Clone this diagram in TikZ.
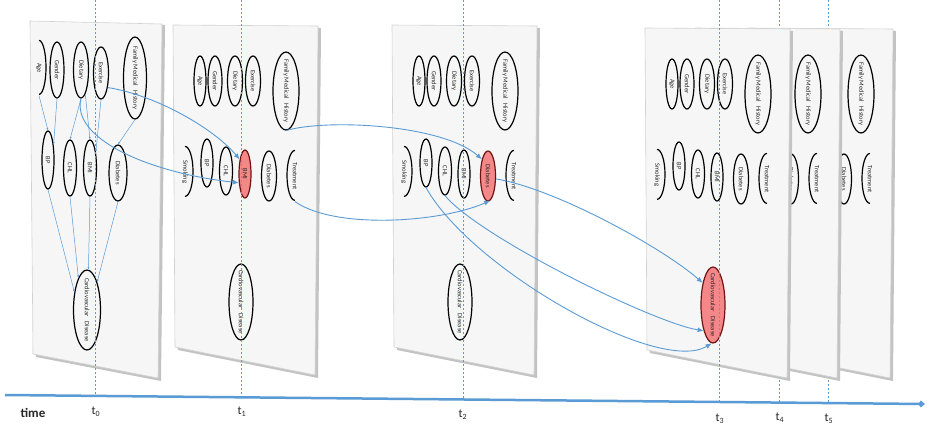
\documentclass[tikz,border=0pt]{standalone}
\usepackage{fontspec}
\setmainfont{Carlito}
\usetikzlibrary{shapes.geometric,arrows.meta,calc}

\definecolor{lineblue}{RGB}{91,155,213}
\definecolor{panelfill}{RGB}{246,246,246}
\definecolor{paneledge}{RGB}{210,210,210}
\definecolor{panelshadow}{RGB}{195,195,195}
\definecolor{redfill}{RGB}{244,136,136}
\definecolor{rededge}{RGB}{110,20,20}

\newcommand\vlab[1]{\rotatebox{-90}{#1}}
\newcommand\vtwo[2]{\rotatebox{-90}{#1\hspace{5pt}#2}}

\tikzset{
  lab/.style={font=\fontsize{6.5}{7}\selectfont, text=black!85, inner sep=0pt},
  var/.style={ellipse, draw=black, line width=1.2pt, inner sep=0pt},
  redvar/.style={var, fill=redfill, draw=rededge},
  arcvar/.style={var, draw=none},
  arcline/.style={black, line width=1.2pt},
  sz/.style 2 args={minimum width=#1pt, minimum height=#2pt},
  txt/.style={label={[lab]center:#1}},
  panelbox/.style={fill=panelfill, draw=paneledge, line width=0.6pt},
  shadowbox/.style={fill=panelshadow, draw=none},
  link/.style={lineblue, line width=0.9pt, -{Latex[length=6pt,width=5pt]}},
  smalllink/.style={lineblue, line width=0.5pt, -{Latex[length=2.5pt,width=2pt]}},
  tline/.style={lineblue, line width=0.6pt, dash pattern=on 2pt off 2pt},
  tlabel/.style={font=\fontsize{12}{14}\selectfont, text=black!85},
  axisline/.style={lineblue, line width=2.5pt, -{Straight Barb[length=3pt,width=5pt]}},
}

% #1,#2 origin, #3 suffix, #4 BMI style, #5 Diabetes style, #6 CVD style
\newcommand\stdpanel[6]{%
  \begin{scope}[shift={(#1,#2)}]
    \fill[shadowbox] (3,-2) -- (148,-3) -- (145,-353) -- (5,-325) -- cycle;
    \draw[panelbox] (0,0) -- (145,-1) -- (142,-350) -- (2,-322) -- cycle;
    \node[var, sz={12}{50}, txt={\vlab{Age}}] (age#3) at (27,-56) {};
    \node[var, sz={14}{50}, txt={\vlab{Gender}}] (gen#3) at (42,-56) {};
    \node[var, sz={15}{50}, txt={\vlab{Dietary}}] (die#3) at (62,-56) {};
    \node[var, sz={15}{50}, txt={\vlab{Exercise}}] (exe#3) at (80,-56) {};
    \node[var, sz={26}{78}, txt={\vtwo{Family Medical}{History}}] (fmh#3) at (113,-66) {};
    \node[arcvar, sz={16}{50}, txt={\vlab{Smoking}}] (smk#3) at (12,-147) {};
    \draw[arcline] (smk#3.north) arc[start angle=90, end angle=-90, x radius=8, y radius=25];
    \node[var, sz={12}{48}, txt={\vlab{BP}}] (bp#3) at (34,-138) {};
    \node[var, sz={13}{48}, txt={\vlab{CHL}}] (chl#3) at (53,-146) {};
    \node[#4, sz={12}{48}, txt={\vlab{BMI}}] (bmi#3) at (72,-149) {};
    \node[#5, sz={15}{50}, txt={\vlab{Diabetes}}] (dia#3) at (96,-151) {};
    \node[arcvar, sz={16}{50}, txt={\vlab{Treatment}}] (trt#3) at (122,-151) {};
    \draw[arcline] (trt#3.north) arc[start angle=90, end angle=270, x radius=8, y radius=25];
    \node[#6, sz={24}{76}, txt={\vtwo{Cardiovascular}{Disease}}] (cvd#3) at (68,-277) {};
  \end{scope}}

\begin{document}
\begin{tikzpicture}[x=1pt, y=1pt]
  \fill[white] (0,0) rectangle (927,-429);
  \useasboundingbox (0,0) rectangle (927,-429);

  % guide lines behind the back panels
  \draw[tline] (779,0) -- (779,-402.6);
  \draw[tline] (828,0) -- (828,-403);

  % panel t0
  \fill[shadowbox] (33,-22) -- (165,-25) -- (161,-381) -- (36,-357) -- cycle;
  \draw[panelbox] (30,-21) -- (162,-24) -- (158,-378) -- (33,-354) -- cycle;
  \node[arcvar, sz={14}{54}, txt={\vlab{Age}}] (age0) at (39,-68) {};
  \draw[arcline] (age0.north) arc[start angle=90, end angle=-90, x radius=7, y radius=27];
  \node[var, sz={14}{56}, txt={\vlab{Gender}}] (gen0) at (57,-70) {};
  \node[var, sz={15}{56}, txt={\vlab{Dietary}}] (die0) at (81,-70) {};
  \node[var, sz={15}{52}, txt={\vlab{Exercise}}] (exe0) at (101,-73) {};
  \node[var, sz={23}{82}, txt={\vtwo{Family Medical}{History}}] (fmh0) at (135,-78) {};
  \node[var, sz={12}{58}, txt={\vlab{BP}}] (bp0) at (48,-160) {};
  \node[var, sz={13}{56}, txt={\vlab{CHL}}] (chl0) at (70,-168) {};
  \node[var, sz={13}{56}, txt={\vlab{BMI}}] (bmi0) at (90,-168) {};
  \node[var, sz={18}{56}, txt={\vlab{Diabetes}}] (dia0) at (118,-173) {};
  \node[var, sz={27}{80}, txt={\vtwo{Cardiovascular}{Disease}}] (cvd0) at (87,-310) {};

  % panels t1, t2
  \stdpanel{173}{-25}{1}{redvar}{var}{var}
  \stdpanel{392}{-25}{2}{var}{redvar}{var}
  % panels t5, t4, t3 (back to front)
  \stdpanel{748}{-28}{6}{var}{var}{var}
  \stdpanel{695}{-28}{5}{var}{var}{var}
  \stdpanel{645}{-28}{3}{var}{var}{redvar}

  % guide lines in front
  \draw[tline] (95,0) -- (95,-396);
  \draw[tline] (241,0) -- (241,-397.3);
  \draw[tline] (463,0) -- (463,-399.5);
  \draw[tline] (719,0) -- (719,-402);

  % edges within t0
  \draw[smalllink] (age0.south) -- (bp0.north);
  \draw[smalllink] (gen0.south) -- (bp0.70);
  \draw[smalllink] (die0.south) -- (chl0.north);
  \draw[smalllink] (die0.-80) -- (bmi0.north);
  \draw[smalllink] (exe0.south) -- (bmi0.70);
  \draw[smalllink] (fmh0.south) -- (dia0.north);
  \draw[smalllink] (bp0.south) -- (cvd0.125);
  \draw[smalllink] (chl0.south) -- (cvd0.105);
  \draw[smalllink] (bmi0.south) -- (cvd0.88);
  \draw[smalllink] (dia0.south) -- (cvd0.70);

  % temporal links
  \draw[link] (exe0.-65) .. controls +(50,-8) and +(-25,30) .. (bmi1.110);
  \draw[link] (die0.south) .. controls +(-10,-40) and +(-90,10) .. (bmi1.235);
  \draw[link] (fmh1.south) .. controls +(40,12) and +(-40,35) .. (dia2.110);
  \draw[link] (trt1.south) .. controls +(40,-28) and +(-50,-22) .. (dia2.-85);
  \draw[link] (dia2.-20) .. controls +(60,-10) and +(-40,35) .. (cvd3.115);
  \draw[link] (chl2.south) .. controls +(35,-42) and +(-50,8) .. (cvd3.250);
  \draw[link] (bp2.south) .. controls +(45,-81) and +(-53,-32) .. (cvd3.-92);

  % time axis
  \draw[axisline] (5,-395) -- (925,-404);
  \node[font=\fontsize{13}{15}\selectfont\bfseries, text=black!85] (timelab) at (33,-413) {time};
  \node[tlabel] (lt0) at (96,-412) {t\textsubscript{0}};
  \node[tlabel] (lt1) at (242,-412) {t\textsubscript{1}};
  \node[tlabel] (lt2) at (463,-415) {t\textsubscript{2}};
  \node[tlabel] (lt3) at (720,-419) {t\textsubscript{3}};
  \node[tlabel] (lt4) at (780,-418) {t\textsubscript{4}};
  \node[tlabel] (lt5) at (829,-419) {t\textsubscript{5}};
\end{tikzpicture}
\end{document}
